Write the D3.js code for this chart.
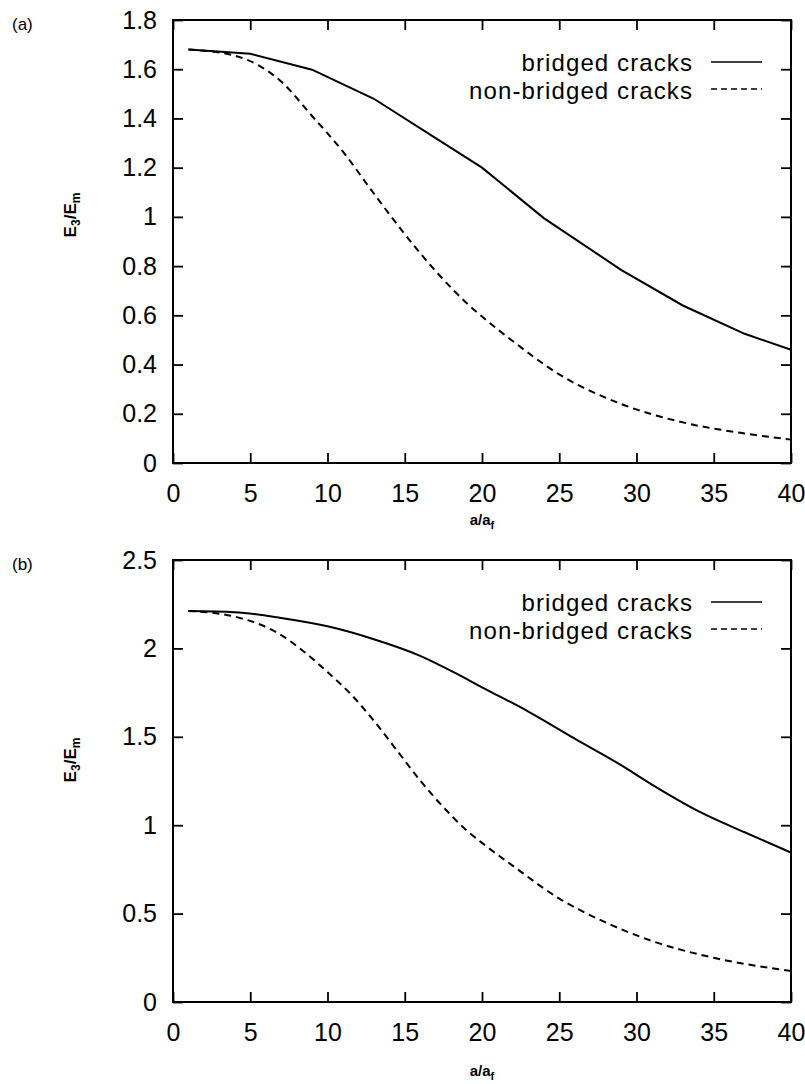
<!DOCTYPE html>
<html>
<head>
<meta charset="utf-8">
<script src="https://cdn.jsdelivr.net/npm/d3@7"></script>
<style>
  body { margin: 0; background: #fff; }
  svg { display: block; font-family: "Liberation Sans", Arial, Helvetica, sans-serif; }
</style>
</head>
<body>
<div id="chart"></div>
<script>
// panel (a)
const xBridgedA = [1, 5, 9, 13, 17, 20, 24, 29, 33, 37, 40];
const yBridgedA = [1.68, 1.663, 1.598, 1.48, 1.32, 1.2, 0.995, 0.785, 0.64, 0.525, 0.46];
const xOpenA = [1, 4, 7, 9, 11, 13, 15, 17, 19, 20, 22, 25, 29, 33, 37, 40];
const yOpenA = [1.68, 1.655, 1.55, 1.41, 1.265, 1.095, 0.93, 0.78, 0.65, 0.595, 0.495, 0.36, 0.24, 0.165, 0.12, 0.095];

// panel (b)
const xBridgedB = [1, 4, 7, 10, 13, 16, 18.5, 20, 23, 26, 29, 31, 34, 37, 40];
const yBridgedB = [2.212, 2.205, 2.172, 2.125, 2.052, 1.958, 1.85, 1.78, 1.643, 1.49, 1.34, 1.23, 1.08, 0.96, 0.845];
const xOpenB = [1, 4, 7, 8.5, 10, 11.5, 13, 14.5, 16, 17.5, 19, 20, 22, 25, 28, 31, 35, 40];
const yOpenB = [2.212, 2.18, 2.075, 1.98, 1.866, 1.742, 1.591, 1.422, 1.253, 1.102, 0.971, 0.9, 0.77, 0.585, 0.45, 0.345, 0.25, 0.175];

const xTicks = [0, 5, 10, 15, 20, 25, 30, 35, 40];
const yTicksA = [0, 0.2, 0.4, 0.6, 0.8, 1, 1.2, 1.4, 1.6, 1.8];
const yTicksB = [0, 0.5, 1, 1.5, 2, 2.5];
const seriesNames = ["bridged cracks", "non-bridged cracks"];

const svg = d3.select("#chart").append("svg")
    .attr("width", 805)
    .attr("height", 1084);

const left = 173, right = 791;
const fmt = d3.format("~g");

function drawPanel(p) {
  const x = d3.scaleLinear().domain([0, 40]).range([left, right]);
  const y = d3.scaleLinear().domain([0, p.yMax]).range([p.bottom, p.top]);

  const g = svg.append("g");

  // axes, ticks pointing inward
  g.append("g")
    .attr("transform", `translate(0,${p.bottom})`)
    .call(d3.axisBottom(x).tickValues(xTicks).tickSize(-10).tickPadding(21).tickFormat(fmt));
  g.append("g")
    .attr("transform", `translate(0,${p.top})`)
    .call(d3.axisTop(x).tickValues(xTicks).tickSize(-10).tickFormat(""));
  g.append("g")
    .attr("transform", `translate(${left},0)`)
    .call(d3.axisLeft(y).tickValues(p.yTicks).tickSize(-10).tickPadding(16).tickFormat(fmt));
  g.append("g")
    .attr("transform", `translate(${right},0)`)
    .call(d3.axisRight(y).tickValues(p.yTicks).tickSize(-10).tickFormat(""));

  g.selectAll(".domain").remove();
  g.selectAll(".tick line").attr("stroke", "#000").attr("stroke-width", 1.8);
  g.selectAll(".tick text")
    .attr("font-family", "Liberation Sans, Arial, sans-serif")
    .attr("font-size", 25)
    .attr("fill", "#000");

  // frame
  g.append("rect")
    .attr("x", left).attr("y", p.top)
    .attr("width", right - left).attr("height", p.bottom - p.top)
    .attr("fill", "none").attr("stroke", "#000").attr("stroke-width", 2);

  const lineB = d3.line().x(d => x(d[0])).y(d => y(d[1])).curve(p.bridgedCurve);
  const lineO = d3.line().x(d => x(d[0])).y(d => y(d[1])).curve(d3.curveMonotoneX);

  g.append("path")
    .datum(d3.zip(p.xb, p.yb))
    .attr("fill", "none").attr("stroke", "#000").attr("stroke-width", 2)
    .attr("d", lineB);
  g.append("path")
    .datum(d3.zip(p.xo, p.yo))
    .attr("fill", "none").attr("stroke", "#000").attr("stroke-width", 2)
    .attr("stroke-dasharray", "7,5")
    .attr("d", lineO);

  // legend
  seriesNames.forEach((name, i) => {
    g.append("text")
      .attr("x", 693)
      .attr("y", p.top + 51 + i * 28)
      .attr("text-anchor", "end")
      .attr("font-size", 24)
      .attr("letter-spacing", 1.1)
      .text(name);
    g.append("line")
      .attr("x1", 711).attr("x2", 762)
      .attr("y1", p.top + 42 + i * 27).attr("y2", p.top + 42 + i * 27)
      .attr("stroke", "#000").attr("stroke-width", 1.5)
      .attr("stroke-dasharray", i ? "6,4" : null);
  });

  // panel letter
  g.append("text")
    .attr("x", 12).attr("y", p.top + 10)
    .attr("font-size", 17)
    .text(p.letter);

  // x label  a/a_f
  const xl = g.append("text")
    .attr("x", (left + right) / 2)
    .attr("y", p.xLabelY)
    .attr("text-anchor", "middle")
    .attr("font-size", 15)
    .attr("font-weight", "bold");
  xl.append("tspan").text("a/a");
  xl.append("tspan").attr("font-size", 11).attr("dy", 4).text("f");

  // y label  E3/Em
  const yl = g.append("text")
    .attr("transform", `translate(76,${p.yLabelY}) rotate(-90)`)
    .attr("text-anchor", "middle")
    .attr("font-size", 17)
    .attr("font-weight", "bold");
  yl.append("tspan").text("E");
  yl.append("tspan").attr("font-size", 12).attr("dy", 4).text("3");
  yl.append("tspan").attr("dy", -4).text("/E");
  yl.append("tspan").attr("font-size", 12).attr("dy", 4).text("m");
}

drawPanel({
  letter: "(a)", top: 20, bottom: 463, yMax: 1.8, yTicks: yTicksA,
  xb: xBridgedA, yb: yBridgedA, xo: xOpenA, yo: yOpenA,
  bridgedCurve: d3.curveLinear,
  xLabelY: 525, yLabelY: 215
});
drawPanel({
  letter: "(b)", top: 560, bottom: 1002, yMax: 2.5, yTicks: yTicksB,
  xb: xBridgedB, yb: yBridgedB, xo: xOpenB, yo: yOpenB,
  bridgedCurve: d3.curveMonotoneX,
  xLabelY: 1076, yLabelY: 760
});
</script>
</body>
</html>
